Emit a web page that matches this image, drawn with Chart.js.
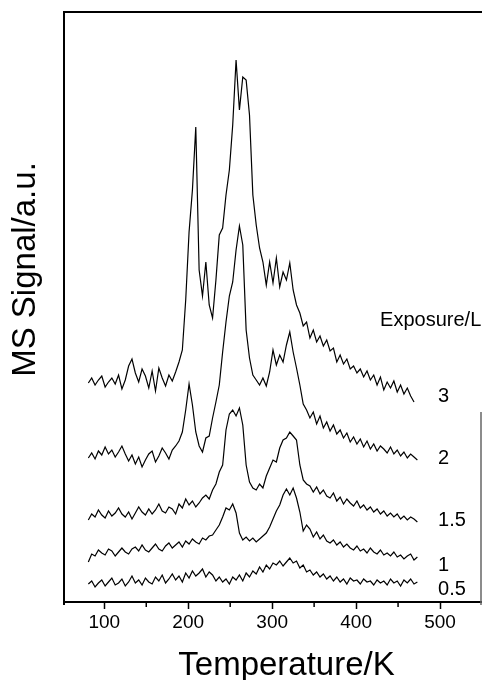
<!DOCTYPE html>
<html>
<head>
<meta charset="utf-8">
<script src="https://cdn.jsdelivr.net/npm/chart.js@4/dist/chart.umd.min.js"></script>
<style>
html, body { margin: 0; padding: 0; background: #fff; }
canvas { display: block; }
</style>
</head>
<body>
<canvas id="tpdChart" width="482" height="680"></canvas>
<script>
// temperature grid (K), shared by all five spectra
const temperatures = [
    81, 85, 89, 93, 97, 101, 105, 109, 113, 117,
    121, 125, 129, 133, 137, 141, 145, 149, 153, 157,
    161, 165, 169, 173, 177, 181, 185, 189, 193, 197,
    201, 205, 209, 213, 217, 221, 225, 229, 233, 237,
    241, 245, 249, 253, 257, 261, 265, 269, 273, 277,
    281, 285, 289, 293, 297, 301, 305, 309, 313, 317,
    321, 325, 329, 333, 337, 341, 345, 349, 353, 357,
    361, 365, 369, 373, 377, 381, 385, 389, 393, 397,
    401, 405, 409, 413, 417, 421, 425, 429, 433, 437,
    441, 445, 449, 453, 457, 461, 465, 469, 473
];

// MS signal (a.u., curves already offset) for each exposure
const signal05 = [
    18, 21, 15, 19, 22, 16, 20, 24, 17, 19,
    23, 16, 20, 26, 19, 22, 17, 24, 20, 18,
    25, 21, 27, 19, 23, 28, 22, 26, 20, 29,
    24, 31, 26, 29, 33, 25, 30, 27, 21, 25,
    20, 23, 18, 25, 22, 27, 21, 29, 25, 31,
    28, 35, 30, 37, 33, 39, 37, 41, 36, 40,
    44, 39, 41, 34, 37, 30, 32, 27, 30, 25,
    28, 23, 26, 21, 25, 20, 23, 18, 24, 21,
    22, 18, 23, 20, 21, 17, 22, 19, 21, 17,
    23, 19, 21, 16, 22, 19, 23, 18, 20
];
const signal1 = [
    40, 48, 46, 52, 49, 47, 53, 51, 46, 50,
    54, 50, 48, 53, 55, 51, 57, 52, 50, 54,
    58, 53, 51, 56, 59, 54, 57, 60, 55, 61,
    58, 63, 60, 58, 64, 62, 66, 67, 72, 77,
    85, 94, 92, 98, 89, 69, 62, 65, 61, 64,
    60, 63, 66, 69, 75, 83, 91, 97, 107, 113,
    107, 114, 104, 90, 71, 77, 73, 65, 70, 63,
    67, 61, 59, 62, 57, 60, 55, 58, 54, 52,
    56, 51, 53, 49, 54, 50, 48, 52, 47, 49,
    46, 50, 45, 47, 43, 46, 48, 42, 45
];
const signal15 = [
    82, 88, 85, 92, 87, 84, 91, 86, 89, 94,
    88, 85, 90, 83, 89, 95, 90, 87, 93, 88,
    92, 98, 91, 89, 95, 93, 88, 98, 94, 103,
    97, 101, 95, 99, 104, 107, 103, 112, 118, 130,
    137, 172, 188, 192, 186, 194, 177, 137, 120, 114,
    112, 118, 114, 126, 134, 142, 140, 154, 162, 164,
    170, 166, 162, 137, 122, 118, 116, 110, 115, 108,
    112, 106, 104, 109, 101, 105, 98, 103, 99, 96,
    101, 94, 97, 92, 95, 90, 93, 88, 91, 86,
    89, 85, 88, 83, 86, 82, 85, 83, 80
];
const signal2 = [
    144, 149, 143, 151, 147, 155, 148, 152, 145, 150,
    156, 148, 141, 147, 138, 145, 135, 142, 148, 151,
    140, 146, 154, 149, 143, 152, 156, 161, 170, 192,
    218, 197, 170, 156, 150, 164, 166, 184, 200, 217,
    250, 280, 306, 320, 352, 376, 357, 272, 244, 227,
    222, 217, 224, 216, 230, 252, 237, 247, 240, 257,
    270, 250, 234, 217, 198, 192, 184, 190, 178, 186,
    174, 180, 171, 177, 168, 172, 164, 169, 160, 165,
    158, 163, 155, 161, 153, 158, 151, 156, 153, 149,
    155, 148, 152, 146, 150, 144, 148, 145, 142
];
const signal3 = [
    219, 224, 217, 222, 226, 215, 220, 224, 218, 227,
    213, 222, 236, 243, 229, 220, 233, 226, 214, 231,
    211, 234, 224, 216, 227, 221, 230, 240, 252, 302,
    370, 412, 475, 332, 306, 340, 297, 284, 322, 367,
    374, 407, 432, 477, 542, 492, 525, 522, 487, 407,
    377, 354, 340, 317, 340, 319, 344, 315, 330, 322,
    339, 312, 297, 289, 276, 280, 264, 272, 260, 266,
    256, 262, 251, 254, 240, 247, 238, 243, 233, 236,
    229, 233, 225, 231, 222, 227, 217, 225, 212, 220,
    214, 221, 210, 217, 208, 214, 206, 200, null
];

const exposures = ['0.5', '1', '1.5', '2', '3'];
const xTicks = [100, 200, 300, 400, 500];
const xMinorTicks = [150, 250, 350, 450];

const FONT = "'Liberation Sans', Arial, sans-serif";

// where the exposure numbers sit (data units, text baseline)
const labelX = 497.6;
const labelBaseY = [7, 31, 76, 138, 200];

const series = [signal05, signal1, signal15, signal2, signal3];

const decorations = {
    id: 'decorations',
    afterDraw(chart) {
        const {ctx, chartArea: a, scales: {x, y}} = chart;
        ctx.save();

        // frame (left + top), right edge only visible lower down
        ctx.strokeStyle = '#000';
        ctx.lineWidth = 2;
        ctx.beginPath();
        ctx.moveTo(a.left, a.bottom + 3);
        ctx.lineTo(a.left, a.top);
        ctx.lineTo(a.right, a.top);
        ctx.stroke();
        ctx.strokeStyle = '#666';
        ctx.lineWidth = 1.5;
        ctx.beginPath();
        ctx.moveTo(a.right - 1, y.getPixelForValue(190));
        ctx.lineTo(a.right - 1, a.bottom + 3);
        ctx.stroke();

        // minor ticks
        ctx.strokeStyle = '#000';
        ctx.lineWidth = 1.5;
        xMinorTicks.forEach(v => {
            const px = x.getPixelForValue(v);
            ctx.beginPath();
            ctx.moveTo(px, a.bottom);
            ctx.lineTo(px, a.bottom + 5);
            ctx.stroke();
        });

        ctx.fillStyle = '#000';

        // axis titles
        ctx.font = '33px ' + FONT;
        ctx.textAlign = 'center';
        ctx.textBaseline = 'alphabetic';
        ctx.fillText('Temperature/K', 286.5, 675);
        ctx.save();
        ctx.translate(35, 269.5);
        ctx.rotate(-Math.PI / 2);
        ctx.fillText('MS Signal/a.u.', 0, 0);
        ctx.restore();

        // exposure labels
        ctx.font = '20px ' + FONT;
        ctx.textAlign = 'left';
        ctx.fillText('Exposure/L', x.getPixelForValue(428.6), y.getPixelForValue(276));
        exposures.forEach((lab, i) => {
            ctx.fillText(lab, x.getPixelForValue(labelX), y.getPixelForValue(labelBaseY[i]));
        });
        ctx.restore();
    }
};

const ctx = document.getElementById('tpdChart');

new Chart(ctx, {
    type: 'line',
    data: {
        datasets: series.map((s, i) => ({
            label: exposures[i] + ' L',
            data: s.map((v, j) => ({x: temperatures[j], y: v})),
            borderColor: '#000',
            borderWidth: 1.2,
            pointRadius: 0,
            fill: false,
            tension: 0
        }))
    },
    options: {
        responsive: false,
        animation: false,
        devicePixelRatio: 1,
        layout: {padding: {left: 64, top: 12, right: 0, bottom: 0}},
        plugins: {legend: {display: false}, tooltip: {enabled: false}},
        scales: {
            x: {
                type: 'linear',
                min: 52,
                max: 550,
                afterBuildTicks: scale => { scale.ticks = xTicks.map(v => ({value: v})); },
                afterFit: scale => { scale.height = 78; },
                border: {display: true, color: '#000', width: 2},
                grid: {display: true, drawOnChartArea: false, drawTicks: true, tickLength: 7, tickWidth: 1.5, tickColor: '#000'},
                ticks: {color: '#000', padding: 2, font: {family: FONT, size: 19}, maxRotation: 0}
            },
            y: {
                display: false,
                min: 0,
                max: 590
            }
        }
    },
    plugins: [decorations]
});
</script>
</body>
</html>
